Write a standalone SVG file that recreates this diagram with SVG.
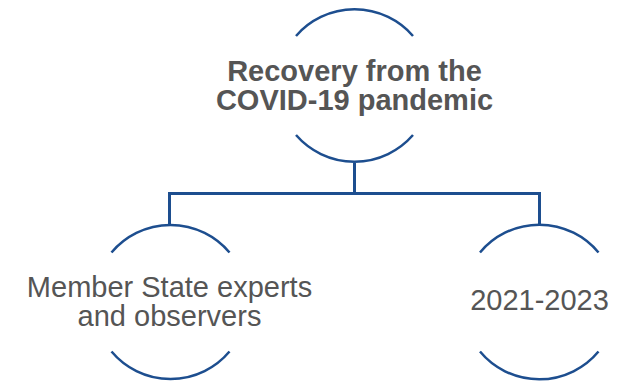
<svg xmlns="http://www.w3.org/2000/svg" width="623" height="381" viewBox="0 0 623 381">
<style>
.arc{fill:none;stroke:#1d4e8f;stroke-width:2.5}
.conn{fill:none;stroke:#1d4e8f;stroke-width:3}
.t{font-family:"Liberation Sans",Arial,sans-serif;font-size:29px;fill:#555555;text-anchor:middle}
.b{font-weight:bold}
</style>
<rect width="623" height="381" fill="#fff"/>
<g id="connectors">
<path class="conn" d="M354.5 163V193.5M169.5 193.5H539.5M169.5 192V225M539.5 192V225"/>
</g>
<g id="node-top">
<path class="arc" d="M296 36A77.5 77.5 0 0 1 413 36"/>
<path class="arc" d="M296 135A77.5 77.5 0 0 0 413 135"/>
<text class="t b" x="354.5" y="80.5">Recovery from the<tspan x="354.5" dy="29.5">COVID-19 pandemic</tspan></text>
</g>
<g id="node-left">
<path class="arc" d="M111.5 252.5A77 77 0 0 1 229.5 252.5"/>
<path class="arc" d="M111.5 351.5A77 77 0 0 0 229.5 351.5"/>
<text class="t" x="169.5" y="296.5">Member State experts<tspan x="169.5" dy="29.5">and observers</tspan></text>
</g>
<g id="node-right">
<path class="arc" d="M480 252.5A77 77 0 0 1 598.5 252.5"/>
<path class="arc" d="M480 351.5A77 77 0 0 0 598.5 351.5"/>
<text class="t" x="539.5" y="310">2021-2023</text>
</g>
</svg>
